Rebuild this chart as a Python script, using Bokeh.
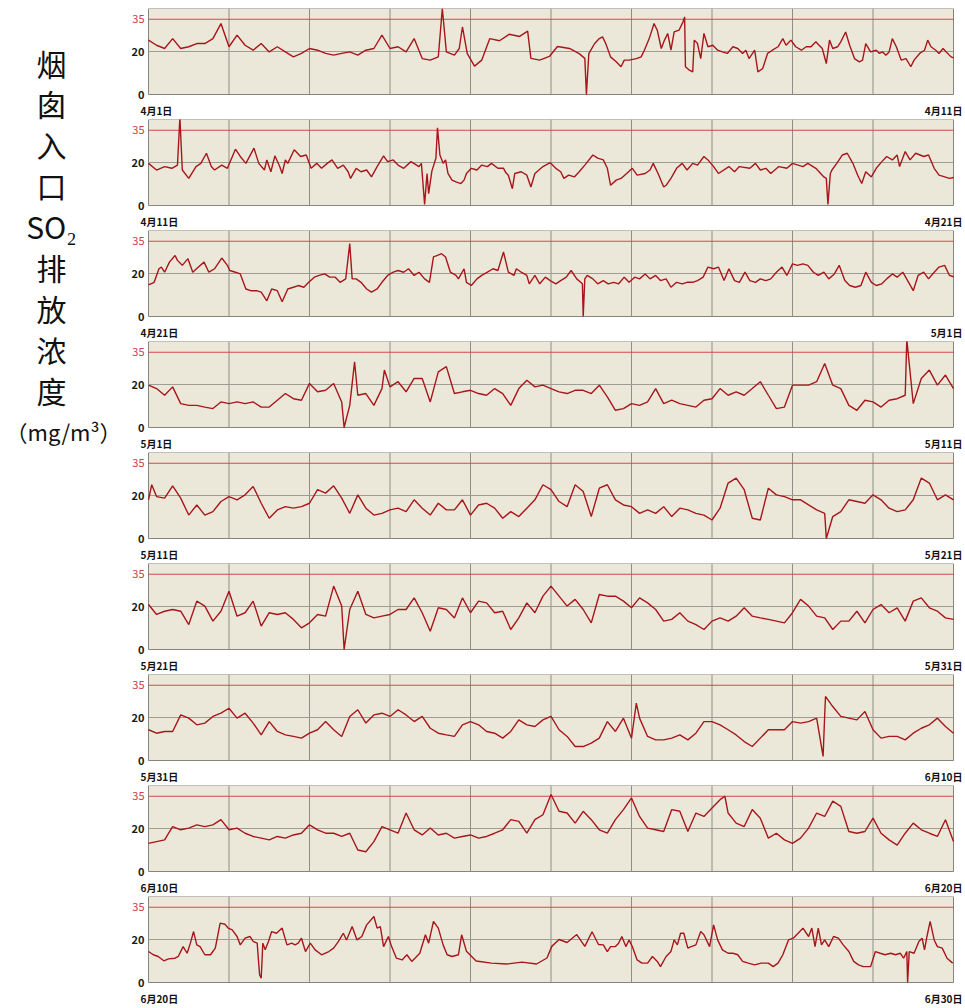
import numpy as np
from bokeh.plotting import figure
from bokeh.models import Range1d, Spacer
from bokeh.layouts import row, column
from bokeh.embed import file_html
from bokeh.resources import INLINE
from bokeh.core.properties import value

# ---------------- data ----------------
date_labels = ["4月1日", "4月11日", "4月21日", "5月1日", "5月11日", "5月21日",
               "5月31日", "6月10日", "6月20日", "6月30日"]
y_ticks = [0, 20]
limit_value = 35
day_lines = [1, 2, 3, 4, 5, 6, 7, 8, 9]
title_chars = ["烟", "囱", "入", "口", "SO₂", "排", "放", "浓", "度"]
title_unit = "（mg/m³）"

# panel 1 : 4/1 - 4/11 (day offset, mg/m3)
p1_days = [0, 0.1, 0.2, 0.3, 0.4, 0.5, 0.6, 0.7, 0.8, 0.9,
           1.0, 1.1, 1.2, 1.3, 1.4, 1.5, 1.6, 1.7, 1.8, 1.9,
           2.0, 2.1, 2.2, 2.3, 2.4, 2.5, 2.6, 2.7, 2.8, 2.9,
           3.0, 3.1, 3.2, 3.3, 3.4, 3.5, 3.6, 3.65, 3.7, 3.8,
           3.86, 3.90, 3.96, 4.05, 4.14, 4.24, 4.36, 4.48, 4.61, 4.71,
           4.75, 4.86, 4.98, 5.08, 5.23, 5.35, 5.42, 5.44, 5.47, 5.54,
           5.60, 5.64, 5.68, 5.74, 5.81, 5.87, 5.91, 5.97, 6.06, 6.12,
           6.16, 6.22, 6.28, 6.32, 6.37, 6.41, 6.45, 6.49, 6.53, 6.59,
           6.64, 6.66, 6.67, 6.72, 6.76, 6.78, 6.82, 6.86, 6.90, 6.95,
           7.01, 7.07, 7.13, 7.19, 7.26, 7.32, 7.38, 7.42, 7.46, 7.53,
           7.57, 7.63, 7.69, 7.75, 7.82, 7.88, 7.92, 7.98, 8.04, 8.11,
           8.17, 8.23, 8.29, 8.33, 8.37, 8.42, 8.46, 8.50, 8.56, 8.60,
           8.66, 8.71, 8.77, 8.83, 8.87, 8.91, 8.97, 9.04, 9.08, 9.12,
           9.16, 9.20, 9.24, 9.29, 9.35, 9.41, 9.47, 9.51, 9.58, 9.64,
           9.68, 9.72, 9.78, 9.82, 9.87, 9.91, 9.97, 10]
p1_vals = [25.3, 22.9, 21.4, 26.0, 21.4, 22.2, 23.7, 23.7, 26.0, 33.0,
           22.2, 27.6, 22.9, 20.6, 23.7, 19.8, 22.2, 19.8, 17.5, 19.1,
           21.4, 20.6, 19.1, 18.3, 19.1, 19.8, 18.3, 20.6, 21.4, 27.6,
           21.4, 22.2, 19.8, 26.0, 16.7, 16.0, 17.5, 40.0, 19.8, 18.3,
           21.4, 31.4, 19.0, 13.2, 16.0, 26.0, 25.0, 28.0, 27.0, 29.5,
           16.8, 16.0, 17.7, 22.3, 21.4, 19.0, 16.8, 0.0, 19.0, 23.6,
           26.0, 26.8, 23.7, 17.5, 15.2, 12.9, 16.0, 16.0, 16.7, 17.5,
           20.6, 26.0, 33.0, 29.9, 21.4, 25.3, 28.4, 20.6, 29.1, 29.9,
           33.8, 36.1, 12.9, 11.3, 10.5, 25.3, 23.7, 16.7, 28.4, 22.2,
           22.9, 20.6, 19.8, 19.1, 22.2, 21.4, 19.1, 20.6, 16.7, 20.6,
           10.5, 12.1, 19.1, 20.6, 22.2, 26.0, 22.9, 25.3, 22.2, 20.6,
           22.2, 22.2, 24.5, 22.9, 21.4, 14.4, 25.3, 21.4, 22.2, 24.5,
           29.1, 22.9, 16.7, 15.2, 16.0, 23.7, 19.8, 20.6, 19.1, 19.8,
           18.3, 19.8, 26.0, 22.2, 16.0, 16.7, 12.9, 16.0, 19.1, 20.6,
           25.3, 22.2, 20.6, 19.1, 21.4, 19.8, 17.5, 17.0]

# panel 2 : 4/11 - 4/21
p2_days = [0, 0.1, 0.2, 0.29, 0.36, 0.39, 0.42, 0.5, 0.59, 0.65,
           0.72, 0.78, 0.82, 0.91, 0.98, 1.08, 1.14, 1.21, 1.31, 1.37,
           1.44, 1.47, 1.52, 1.57, 1.63, 1.66, 1.70, 1.73, 1.81, 1.89,
           1.96, 2.02, 2.09, 2.15, 2.22, 2.28, 2.35, 2.42, 2.48, 2.51,
           2.58, 2.64, 2.71, 2.77, 2.84, 2.92, 2.97, 3.04, 3.10, 3.17,
           3.26, 3.33, 3.36, 3.39, 3.43, 3.46, 3.48, 3.52, 3.57, 3.59,
           3.62, 3.66, 3.69, 3.72, 3.77, 3.82, 3.88, 3.92, 3.95, 4.01,
           4.08, 4.14, 4.21, 4.26, 4.34, 4.41, 4.44, 4.47, 4.52, 4.55,
           4.63, 4.70, 4.75, 4.80, 4.90, 4.99, 5.06, 5.12, 5.16, 5.22,
           5.29, 5.35, 5.42, 5.52, 5.58, 5.65, 5.70, 5.74, 5.81, 5.87,
           5.94, 6.01, 6.07, 6.17, 6.23, 6.27, 6.33, 6.40, 6.43, 6.49,
           6.56, 6.63, 6.69, 6.76, 6.82, 6.90, 6.95, 7.02, 7.08, 7.21,
           7.28, 7.34, 7.47, 7.54, 7.60, 7.67, 7.73, 7.83, 7.93, 8.0,
           8.13, 8.19, 8.29, 8.39, 8.42, 8.44, 8.47, 8.49, 8.55, 8.62,
           8.68, 8.75, 8.81, 8.86, 8.91, 8.98, 9.04, 9.11, 9.17, 9.24,
           9.30, 9.33, 9.40, 9.46, 9.53, 9.63, 9.69, 9.76, 9.82, 9.95,
           10]
p2_vals = [19.6, 16.5, 18.1, 17.3, 18.8, 41.0, 16.5, 12.6, 18.1, 19.6,
           24.3, 18.1, 16.5, 18.8, 17.3, 26.2, 22.8, 19.6, 26.7, 19.6,
           16.5, 21.2, 15.7, 23.1, 18.1, 14.9, 21.2, 19.6, 25.9, 22.8,
           23.5, 17.3, 19.6, 17.3, 19.6, 21.2, 17.3, 18.8, 15.7, 12.6,
           17.3, 15.7, 16.5, 13.3, 18.1, 23.1, 20.4, 21.2, 18.8, 17.3,
           20.4, 18.8, 18.1, 19.6, 0.5, 14.9, 5.5, 16.0, 22.0, 36.1,
           23.5, 19.6, 21.2, 14.9, 11.8, 11.0, 10.2, 11.8, 14.9, 17.3,
           16.5, 18.8, 18.1, 19.6, 17.3, 17.3, 15.2, 14.1, 7.8, 14.9,
           15.7, 14.1, 8.6, 14.9, 18.1, 19.9, 17.3, 15.7, 12.6, 14.1,
           13.3, 15.7, 18.8, 23.5, 22.0, 21.2, 17.3, 9.4, 11.8, 12.6,
           14.9, 17.3, 14.1, 14.9, 16.5, 19.6, 14.9, 8.6, 9.4, 12.6,
           17.3, 19.6, 16.5, 19.6, 18.8, 22.8, 21.2, 18.1, 14.9, 18.1,
           15.7, 18.1, 17.3, 19.6, 16.5, 17.3, 14.9, 18.1, 17.3, 19.6,
           18.1, 19.6, 17.3, 13.3, 12.6, 0.5, 14.9, 16.5, 19.6, 23.5,
           24.3, 19.6, 14.1, 10.2, 15.7, 13.3, 17.3, 20.4, 22.8, 21.2,
           23.5, 18.1, 25.1, 21.2, 24.3, 22.8, 23.5, 17.3, 14.1, 12.6,
           13.0]

# panel 3 : 4/21 - 5/1
p3_days = [0, 0.07, 0.13, 0.16, 0.20, 0.26, 0.33, 0.36, 0.42, 0.49,
           0.55, 0.62, 0.69, 0.75, 0.82, 0.91, 0.98, 1.01, 1.08, 1.14,
           1.21, 1.27, 1.34, 1.40, 1.47, 1.53, 1.60, 1.66, 1.73, 1.80,
           1.86, 1.93, 1.99, 2.06, 2.12, 2.19, 2.25, 2.32, 2.38, 2.45,
           2.50, 2.53, 2.58, 2.64, 2.71, 2.77, 2.84, 2.90, 2.97, 3.04,
           3.10, 3.17, 3.23, 3.30, 3.36, 3.43, 3.49, 3.54, 3.59, 3.64,
           3.69, 3.75, 3.82, 3.85, 3.92, 3.95, 4.01, 4.08, 4.14, 4.21,
           4.28, 4.34, 4.41, 4.47, 4.54, 4.57, 4.63, 4.70, 4.73, 4.80,
           4.86, 4.93, 4.99, 5.06, 5.12, 5.19, 5.25, 5.32, 5.39, 5.40,
           5.42, 5.45, 5.52, 5.58, 5.65, 5.71, 5.78, 5.84, 5.91, 5.97,
           6.04, 6.10, 6.17, 6.23, 6.30, 6.36, 6.43, 6.49, 6.56, 6.63,
           6.69, 6.76, 6.82, 6.89, 6.95, 7.02, 7.08, 7.15, 7.21, 7.28,
           7.34, 7.41, 7.47, 7.54, 7.60, 7.67, 7.73, 7.80, 7.87, 7.93,
           8.0, 8.06, 8.13, 8.19, 8.26, 8.32, 8.39, 8.45, 8.52, 8.58,
           8.65, 8.71, 8.78, 8.85, 8.91, 8.98, 9.04, 9.11, 9.17, 9.24,
           9.30, 9.37, 9.43, 9.50, 9.56, 9.63, 9.69, 9.76, 9.82, 9.89,
           9.95, 10]
p3_vals = [14.7, 15.9, 22.2, 23.0, 20.6, 25.3, 28.4, 26.1, 23.8, 26.9,
           20.6, 23.0, 25.3, 20.6, 22.2, 27.2, 23.8, 21.4, 20.6, 19.8,
           12.8, 12.0, 12.0, 11.3, 7.3, 12.8, 12.0, 6.9, 12.8, 13.6,
           14.4, 13.6, 15.9, 18.3, 19.1, 19.8, 18.3, 18.3, 15.9, 17.5,
           33.9, 17.5, 17.5, 15.9, 12.8, 11.3, 12.8, 15.9, 19.1, 20.6,
           21.4, 20.6, 22.2, 19.1, 20.6, 17.5, 15.9, 27.7, 28.4, 29.2,
           27.7, 20.6, 19.1, 17.5, 22.2, 15.9, 14.4, 17.5, 19.1, 20.6,
           22.2, 21.4, 30.0, 20.6, 19.1, 22.2, 20.6, 19.1, 15.2, 19.1,
           15.2, 18.3, 16.7, 15.2, 16.7, 18.3, 21.4, 17.5, 15.2, 0.0,
           17.5, 19.1, 17.5, 15.2, 16.7, 15.2, 15.9, 15.2, 18.3, 15.9,
           18.3, 17.5, 19.8, 17.5, 19.1, 16.7, 17.5, 13.6, 15.9, 15.2,
           15.9, 15.9, 16.7, 18.3, 23.0, 22.2, 23.0, 16.7, 22.2, 16.7,
           15.9, 20.6, 16.7, 15.9, 17.5, 16.7, 17.5, 20.6, 23.0, 19.1,
           24.5, 23.8, 24.5, 23.8, 20.6, 19.1, 20.6, 17.5, 19.8, 23.8,
           16.7, 14.4, 13.6, 14.4, 20.6, 15.9, 14.4, 15.2, 17.5, 19.8,
           18.3, 20.6, 16.7, 12.0, 19.1, 20.6, 17.5, 20.6, 23.0, 23.8,
           19.1, 18.5]

# panels 4-8 : readings every 0.1 day, plus short spikes
p4_vals = [19.7, 18.1, 15.0, 18.9, 11.1, 10.3, 10.3, 9.5, 8.8, 11.9,
           11.1, 11.9, 11.1, 11.9, 9.5, 9.5, 12.7, 15.8, 13.4, 12.7,
           20.5, 16.6, 17.3, 20.5, 11.9, 10.3, 15.0, 15.8, 10.3, 18.1,
           18.9, 21.3, 16.6, 22.8, 22.8, 11.9, 25.9, 28.3, 15.8, 16.6,
           17.3, 15.8, 15.0, 18.1, 15.8, 10.3, 18.1, 22.0, 18.9, 19.7,
           18.1, 16.6, 15.8, 17.3, 17.3, 15.8, 19.7, 14.2, 8.0, 8.8,
           11.1, 10.3, 11.9, 18.1, 11.1, 12.7, 11.1, 10.3, 9.5, 12.7,
           13.4, 18.1, 15.0, 16.6, 15.0, 18.1, 21.3, 15.0, 8.8, 9.5,
           19.7, 19.7, 19.7, 21.3, 29.8, 19.7, 18.1, 10.3, 8.0, 12.7,
           11.9, 9.5, 12.7, 13.4, 15.0, 11.1, 22.8, 26.7, 19.7, 24.4,
           18.1]
p4_spk_days = [2.43, 2.56, 2.93, 9.42]
p4_spk_vals = [0.0, 30.6, 26.7, 41.0]

p5_vals = [18.0, 19.5, 18.8, 24.5, 18.8, 10.9, 15.6, 10.9, 12.5, 17.2,
           19.5, 18.0, 20.3, 24.2, 16.4, 9.4, 13.3, 14.8, 14.1, 14.8,
           16.4, 22.7, 21.1, 24.5, 18.8, 11.7, 20.3, 14.1, 10.9, 11.7,
           13.3, 14.1, 12.5, 18.0, 14.1, 10.9, 16.4, 13.3, 13.3, 18.0,
           10.9, 15.6, 16.4, 14.1, 9.4, 12.5, 10.2, 14.1, 18.0, 25.0,
           22.7, 17.2, 14.8, 25.0, 21.9, 10.2, 23.4, 25.0, 18.0, 15.6,
           14.8, 11.7, 13.3, 11.7, 14.8, 10.2, 14.1, 13.3, 11.7, 10.9,
           8.6, 14.1, 25.8, 28.1, 22.7, 9.4, 8.6, 23.4, 20.3, 19.5,
           18.0, 18.0, 15.6, 13.3, 11.7, 10.2, 12.5, 18.0, 17.2, 16.4,
           20.3, 18.0, 14.1, 12.5, 13.3, 18.0, 28.1, 25.8, 18.0, 20.3,
           18.0]
p5_spk_days = [0.04, 8.42]
p5_spk_vals = [25.0, 0.0]

p6_vals = [20.9, 16.3, 17.8, 18.6, 17.8, 11.6, 22.5, 20.2, 13.2, 17.8,
           27.1, 15.5, 17.1, 22.5, 10.9, 17.1, 16.3, 17.1, 14.0, 10.1,
           12.4, 16.3, 15.5, 29.5, 20.2, 18.6, 27.1, 16.3, 14.7, 15.5,
           16.3, 18.6, 18.6, 24.0, 17.1, 8.5, 19.4, 18.6, 14.7, 24.0,
           17.1, 22.5, 21.7, 17.1, 17.8, 9.3, 14.7, 21.7, 17.1, 24.8,
           29.5, 24.8, 20.2, 23.3, 18.6, 12.4, 25.6, 24.8, 24.8, 22.5,
           19.4, 24.0, 21.7, 18.6, 13.2, 14.0, 17.1, 13.2, 11.6, 9.3,
           13.2, 14.7, 13.2, 15.5, 19.4, 15.5, 14.7, 14.0, 13.2, 12.4,
           17.1, 23.3, 20.2, 15.5, 14.7, 9.3, 13.2, 13.2, 17.8, 12.4,
           18.6, 20.9, 17.1, 19.4, 13.2, 22.5, 24.0, 19.4, 17.8, 14.7,
           14.0]
p6_spk_days = [2.43]
p6_spk_vals = [0.0]

p7_vals = [14.3, 12.7, 13.5, 13.5, 21.2, 19.7, 16.6, 17.4, 20.5, 22.0,
           24.3, 19.7, 22.0, 17.4, 11.9, 18.1, 13.5, 11.9, 11.2, 10.4,
           12.7, 14.3, 18.1, 14.3, 11.2, 20.5, 23.6, 17.4, 21.2, 22.0,
           20.5, 23.6, 21.2, 18.1, 20.5, 15.0, 12.7, 11.9, 11.2, 16.6,
           18.1, 16.6, 13.5, 12.7, 10.4, 13.5, 18.9, 16.6, 15.8, 18.9,
           20.5, 14.3, 11.2, 6.5, 6.5, 8.1, 10.4, 18.1, 13.5, 19.7,
           10.4, 19.7, 11.2, 9.6, 9.6, 10.4, 11.9, 9.6, 12.7, 18.1,
           18.1, 16.6, 14.3, 11.9, 8.8, 6.5, 10.4, 14.3, 14.3, 14.3,
           18.1, 17.4, 18.1, 19.7, 21.2, 25.1, 20.5, 19.7, 18.9, 22.8,
           14.3, 10.4, 11.2, 11.2, 9.6, 12.7, 15.0, 16.6, 19.7, 15.8,
           12.7]
p7_spk_days = [6.06, 8.38, 8.41]
p7_spk_vals = [26.7, 1.9, 29.8]

p8_vals = [13.1, 13.9, 14.7, 20.9, 19.4, 20.2, 21.7, 20.9, 21.7, 24.1,
           19.4, 20.2, 17.8, 16.3, 15.5, 14.7, 16.3, 15.5, 17.0, 17.8,
           21.7, 19.4, 17.8, 17.8, 16.3, 17.8, 10.0, 9.2, 13.9, 20.9,
           19.4, 17.8, 27.2, 19.4, 17.0, 20.2, 17.0, 17.8, 15.5, 16.3,
           17.0, 15.5, 16.3, 17.8, 19.4, 24.1, 23.3, 17.8, 24.1, 26.4,
           35.8, 28.0, 27.2, 22.5, 28.0, 24.1, 19.4, 17.8, 24.1, 28.8,
           34.2, 25.6, 20.2, 19.4, 18.6, 28.8, 28.0, 18.6, 27.2, 25.6,
           29.5, 33.4, 27.2, 22.5, 20.9, 28.8, 24.8, 15.5, 17.8, 14.7,
           13.1, 15.5, 20.2, 27.2, 25.6, 32.7, 30.3, 18.6, 17.8, 18.6,
           24.8, 17.8, 14.7, 12.3, 17.8, 22.5, 19.4, 17.8, 16.3, 24.1,
           13.9]
p8_spk_days = [7.16]
p8_spk_vals = [35.0]

# panel 9 : 6/20 - 6/30
p9_days = [0, 0.06, 0.12, 0.19, 0.25, 0.33, 0.37, 0.43, 0.48, 0.52,
           0.56, 0.60, 0.64, 0.70, 0.77, 0.83, 0.89, 0.95, 0.99, 1.04,
           1.10, 1.14, 1.20, 1.26, 1.30, 1.35, 1.38, 1.40, 1.42, 1.45,
           1.49, 1.53, 1.59, 1.66, 1.72, 1.78, 1.82, 1.86, 1.90, 1.95,
           2.01, 2.07, 2.15, 2.24, 2.30, 2.36, 2.42, 2.46, 2.53, 2.59,
           2.65, 2.71, 2.80, 2.84, 2.88, 2.92, 2.98, 3.02, 3.08, 3.15,
           3.21, 3.27, 3.31, 3.37, 3.44, 3.48, 3.54, 3.60, 3.66, 3.71,
           3.77, 3.85, 3.89, 3.95, 4.07, 4.26, 4.45, 4.64, 4.82, 4.95,
           5.01, 5.10, 5.20, 5.32, 5.42, 5.51, 5.59, 5.65, 5.70, 5.74,
           5.80, 5.84, 5.88, 5.93, 5.97, 6.01, 6.07, 6.13, 6.20, 6.26,
           6.32, 6.36, 6.43, 6.49, 6.53, 6.57, 6.61, 6.65, 6.70, 6.74,
           6.80, 6.86, 6.90, 6.97, 7.02, 7.07, 7.13, 7.20, 7.26, 7.32,
           7.38, 7.45, 7.53, 7.61, 7.70, 7.76, 7.82, 7.88, 7.95, 8.01,
           8.07, 8.13, 8.20, 8.24, 8.28, 8.32, 8.36, 8.40, 8.45, 8.51,
           8.57, 8.63, 8.70, 8.76, 8.82, 8.88, 8.97, 9.03, 9.09, 9.15,
           9.22, 9.28, 9.34, 9.38, 9.42, 9.43, 9.45, 9.51, 9.57, 9.61,
           9.64, 9.67, 9.71, 9.76, 9.80, 9.86, 9.92, 9.99]
p9_vals = [14.4, 12.9, 12.1, 10.1, 11.0, 11.3, 12.1, 16.7, 13.6, 18.3,
           23.7, 17.5, 16.7, 12.9, 12.9, 16.0, 27.6, 27.1, 25.3, 24.5,
           21.4, 17.5, 20.6, 21.4, 19.1, 18.3, 3.6, 2.0, 18.3, 15.2,
           19.1, 23.7, 22.9, 25.3, 17.5, 18.3, 17.5, 18.3, 20.6, 14.4,
           18.3, 15.2, 12.9, 14.4, 16.0, 19.1, 22.9, 19.8, 26.0, 19.8,
           21.4, 26.8, 30.7, 25.3, 26.0, 16.7, 21.4, 16.7, 11.3, 10.5,
           12.9, 9.8, 11.3, 13.6, 22.2, 18.3, 28.4, 25.3, 17.5, 12.9,
           12.1, 12.9, 22.2, 14.5, 10.0, 9.0, 8.6, 9.5, 8.6, 11.4,
           16.8, 20.0, 18.6, 22.3, 16.8, 23.6, 17.7, 17.5, 14.4, 16.7,
           16.7, 18.3, 21.4, 16.7, 19.8, 16.7, 10.5, 9.0, 9.0, 12.1,
           9.8, 7.4, 12.1, 14.4, 19.8, 17.5, 22.9, 22.9, 16.0, 16.7,
           17.5, 23.7, 22.2, 16.7, 26.8, 19.8, 15.2, 13.6, 13.6, 12.9,
           9.8, 9.0, 8.2, 9.0, 9.0, 7.4, 9.0, 12.9, 19.8, 20.6,
           22.9, 25.3, 21.4, 25.3, 16.7, 25.3, 17.5, 19.8, 16.7, 21.4,
           20.6, 17.5, 14.4, 9.8, 8.2, 7.4, 7.4, 14.4, 13.6, 12.9,
           13.6, 12.9, 13.6, 11.3, 14.4, 0.0, 14.4, 13.6, 19.1, 20.6,
           15.2, 21.4, 28.4, 19.8, 16.7, 16.0, 11.3, 9.0]


def merged(base_vals, spk_days, spk_vals):
    d = [i * 0.1 for i in range(len(base_vals))] + list(spk_days)
    v = list(base_vals) + list(spk_vals)
    order = np.argsort(d, kind="stable")
    return [d[i] for i in order], [v[i] for i in order]


series = [
    (p1_days, p1_vals),
    (p2_days, p2_vals),
    (p3_days, p3_vals),
    merged(p4_vals, p4_spk_days, p4_spk_vals),
    merged(p5_vals, p5_spk_days, p5_spk_vals),
    merged(p6_vals, p6_spk_days, p6_spk_vals),
    merged(p7_vals, p7_spk_days, p7_spk_vals),
    merged(p8_vals, p8_spk_days, p8_spk_vals),
    (p9_days, p9_vals),
]

# ---------------- styles / geometry (pixels) ----------------
BG = "#ebe8da"
GRID = "#8e8e86"
HLINE = "#9d9d94"
BORDER = "#85857d"
LINE = "#a8161a"
LIMIT = "#d4474c"
FONT = "Noto Sans CJK SC"

Y_MAX = 40
DAYS = 10
TITLE_W = 124
PANEL_W = 965 - TITLE_W          # canvas width of a panel
BOX_L, BOX_W = 24, 805           # plotting box inside the panel canvas
PANEL_H, BOX_H = 111, 86         # box sits at the top of each panel canvas
TOP_PAD = 8

px_day = BOX_W / DAYS
px_unit = BOX_H / Y_MAX
x_lo = -BOX_L / px_day
x_hi = DAYS + (PANEL_W - BOX_L - BOX_W) / px_day
y_lo = -(PANEL_H - BOX_H) / px_unit


def make_panel(days, vals, lab_start, lab_end):
    n = min(len(days), len(vals))
    p = figure(width=PANEL_W, height=PANEL_H,
               x_range=Range1d(x_lo, x_hi), y_range=Range1d(y_lo, Y_MAX),
               output_backend="svg", toolbar_location=None, min_border=0)
    p.axis.visible = False
    p.grid.visible = False
    p.outline_line_color = None
    p.background_fill_color = "white"
    p.border_fill_color = "white"

    # plotting box
    p.quad(left=[0], right=[DAYS], bottom=[0], top=[Y_MAX],
           fill_color=BG, line_color=BORDER, line_width=1)
    # daily grid lines
    p.segment(x0=day_lines, y0=[0] * len(day_lines),
              x1=day_lines, y1=[Y_MAX] * len(day_lines),
              line_color=GRID, line_width=1)
    # 20 reference line and 35 limit line
    p.segment(x0=[0], y0=[20], x1=[DAYS], y1=[20], line_color=HLINE, line_width=1)
    p.segment(x0=[0], y0=[limit_value], x1=[DAYS], y1=[limit_value],
              line_color=LIMIT, line_width=1)
    # data
    p.line(days[:n], vals[:n], line_color=LINE, line_width=1.4)

    # tick labels
    tx = -4 / px_day
    p.text(x=[tx] * len(y_ticks), y=y_ticks, text=[str(v) for v in y_ticks],
           text_font=value(FONT), text_font_size="11px", text_font_style="bold",
           text_align="right", text_baseline="middle", text_color="#1a1a1a")
    p.text(x=[tx], y=[limit_value], text=[str(limit_value)],
           text_font=value(FONT), text_font_size="11px",
           text_align="right", text_baseline="middle", text_color="#c8404a")
    # date labels under the box
    ly = -8 / px_unit
    p.text(x=[-8 / px_day], y=[ly], text=[lab_start],
           text_font=value(FONT), text_font_size="10px", text_font_style="bold",
           text_align="left", text_baseline="top", text_color="#111111")
    p.text(x=[DAYS + 9 / px_day], y=[ly], text=[lab_end],
           text_font=value(FONT), text_font_size="10px", text_font_style="bold",
           text_align="right", text_baseline="top", text_color="#111111")
    return p


panels = [make_panel(d, v, date_labels[i], date_labels[i + 1])
          for i, (d, v) in enumerate(series)]

# ---------------- vertical title ----------------
TITLE_H = TOP_PAD + PANEL_H * len(panels)
t = figure(width=TITLE_W, height=TITLE_H,
           x_range=Range1d(0, TITLE_W), y_range=Range1d(TITLE_H, 0),
           output_backend="svg", toolbar_location=None, min_border=0)
t.axis.visible = False
t.grid.visible = False
t.outline_line_color = None
t.background_fill_color = "white"
t.border_fill_color = "white"

row_gap = 40.9
ys = [62 + row_gap * i for i in range(len(title_chars))]
t.text(x=[51] * len(title_chars), y=ys, text=title_chars,
       text_font=value(FONT), text_font_size="30px",
       text_align="center", text_baseline="middle", text_color="#111111")
t.text(x=[63], y=[62 + row_gap * len(title_chars)], text=[title_unit],
       text_font=value(FONT), text_font_size="22px",
       text_align="center", text_baseline="middle", text_color="#111111")

layout = row(t, column(Spacer(width=PANEL_W, height=TOP_PAD), *panels))

open("out.html", "w").write(file_html(layout, INLINE))
